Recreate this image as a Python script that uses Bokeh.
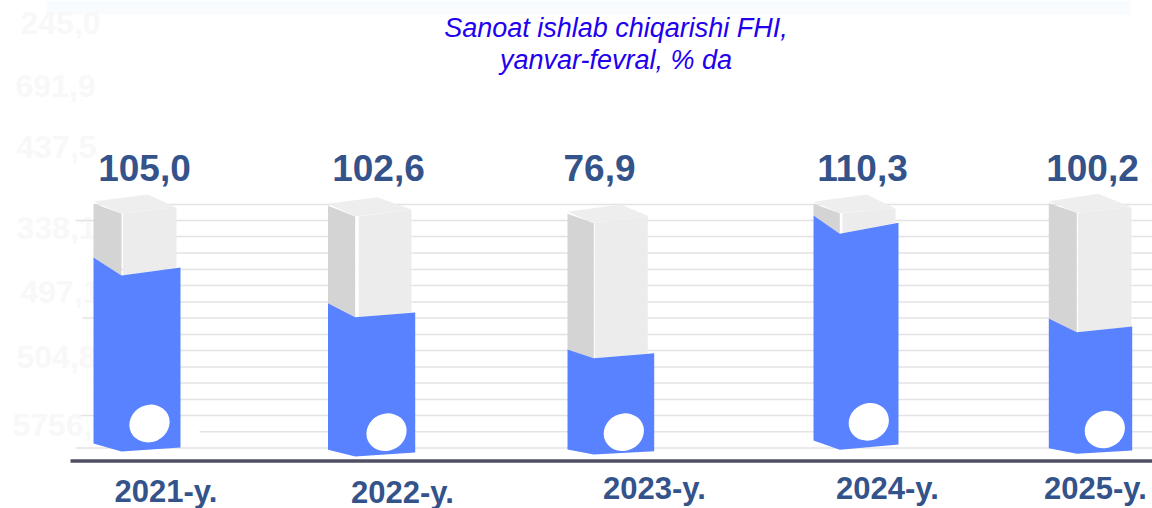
from bokeh.plotting import figure
from bokeh.models import Range1d
from bokeh.core.properties import value
from bokeh.embed import file_html
from bokeh.resources import INLINE

# ---- data ----
years = ["2021-y.", "2022-y.", "2023-y.", "2024-y.", "2025-y."]
labels = ["105,0", "102,6", "76,9", "110,3", "100,2"]
# height of the blue fill and of the whole tube above the baseline (picture units)
fill_level = [193.0, 148.0, 107.3, 237.7, 134.0]
tube_level = [253.0, 251.0, 244.7, 252.0, 253.3]
grid_levels = [256, 240, 224, 207.4, 191, 175, 158.4, 142.4, 126, 110, 93.4, 77.4, 61, 45, 28.7, 12.4]
ghost_labels = ["245,0", "691,9", "437,5", "338,1", "497,1", "504,8", "5756,"]
title_lines = ["Sanoat ishlab chiqarishi FHI,", "yanvar-fevral, % da"]

# ---- layout and styling ----
W, H = 1152, 508
BASE = 460  # picture row of the baseline
bar_left = [93.0, 327.5, 567.0, 813.0, 1048.3]
side_w = [28.0, 27.2, 26.3, 26.3, 28.0]
bar_w = [87.0, 87.2, 86.7, 85.0, 83.4]
fill_rise = [10.0, 9.3, 3.7, 7.3, 8.0]
fill_drop = [8.0, 4.7, 5.0, 11.0, 5.7]
foot_right = [13.0, 8.0, 9.3, 16.0, 10.0]
foot_mid = [9.0, 4.0, 6.0, 10.7, 6.7]
foot_left = [17.0, 10.7, 11.0, 20.0, 12.3]
tube_w = [83.0, 83.5, 80.3, 82.0, 82.7]
tube_rise = [4.0, 3.7, 2.0, 4.7, 4.0]
tube_drop = [6.0, 7.0, 7.4, 4.7, 5.6]
apex_rise = [13.0, 12.3, 11.3, 14.0, 13.4]
apex_x = [54.0, 49.0, 53.0, 53.0, 49.4]
gap = [1.5, 3.5, 1.0, 2.7, 1.3]
hole_x = [149.0, 386.0, 623.3, 868.3, 1104.3]
hole_y = [37.0, 28.3, 28.3, 38.7, 31.0]
grid_start = [95, 75, 93, 93, 93, 93, 93, 82, 93, 93, 93, 93, 93, 80, 199, 75]
label_x = [144, 378, 599, 862, 1092]
label_y = [293, 293, 293, 293, 293]
year_x = [165.5, 402, 654, 887, 1095]
year_y = [-31, -31.5, -28, -28, -28]
ghost_x = [20, 15, 16, 16, 20, 16, 12]
ghost_y = [438, 375, 314, 233, 169, 104, 36]
BLUE, GREY, LIGHT, TOP = "#5882ff", "#d4d4d4", "#ececec", "#eeeeee"
NAVY = "#34538a"

p = figure(width=W, height=H, x_range=Range1d(0, W), y_range=Range1d(BASE - H, BASE),
           output_backend="svg", toolbar_location=None, min_border=0,
           outline_line_color=None, background_fill_color="white", border_fill_color="white")
p.axis.visible = False
p.grid.visible = False

# faint leftovers behind the chart
p.quad(left=[46], right=[1130], bottom=[446], top=[460], fill_color="#f8fcff", line_color=None)
p.text(x=ghost_x, y=ghost_y, text=ghost_labels, text_color="#f8f8f8", text_font=value("Liberation Sans"),
       text_font_style="bold", text_font_size="32px", text_align="left", text_baseline="middle")

# grid lines and baseline
p.segment(x0=grid_start, x1=[1152] * len(grid_levels), y0=grid_levels, y1=grid_levels,
          line_color="#e3e3e3", line_width=1.5)
p.segment(x0=[70], x1=[1152], y0=[-0.5], y1=[-0.5], line_color="#4f4f64", line_width=3.5)

# tubes
for i in range(len(years)):
    x0, notch, xr = bar_left[i], bar_left[i] + side_w[i], bar_left[i] + tube_w[i]
    t, f = tube_level[i], fill_level[i]
    # white backing, so no grid line shows in the gap between the faces
    p.patch([notch, notch + gap[i], notch + gap[i], notch], [t - tube_drop[i], t - tube_drop[i], f, f],
            fill_color="white", line_color=None)
    p.patch([x0, notch, notch, x0], [t + tube_rise[i], t - tube_drop[i], f - fill_drop[i], f + fill_rise[i]],
            fill_color=GREY, line_color=None)
    p.patch([x0, x0 + apex_x[i], xr, notch],
            [t + tube_rise[i] + 2, t + apex_rise[i], t, t - tube_drop[i]], fill_color=TOP, line_color=None)
    p.patch([notch + gap[i], xr, xr, notch + gap[i]], [t - tube_drop[i], t, f, f - fill_drop[i]],
            fill_color=LIGHT, line_color=None)
    # blue fill
    xb = x0 + bar_w[i]
    p.patch([x0, notch, xb, xb, notch, x0],
            [f + fill_rise[i], f - fill_drop[i], f, foot_right[i], foot_mid[i], foot_left[i]],
            fill_color=BLUE, line_color=None)

# white holes
p.ellipse(x=hole_x, y=hole_y, width=41, height=37, angle=0.45, fill_color="white", line_color=None)

# texts
p.text(x=label_x, y=label_y, text=labels, text_color=NAVY, text_font=value("Liberation Sans"), text_font_style="bold",
       text_font_size="37px", text_align="center", text_baseline="middle")
p.text(x=year_x, y=year_y, text=years, text_color=NAVY, text_font=value("Liberation Sans"), text_font_style="bold",
       text_font_size="31px", text_align="center", text_baseline="middle")
p.text(x=[615.5, 615.5], y=[433, 401], text=title_lines, text_color="#2200ee", text_font=value("Liberation Sans"),
       text_font_style="italic", text_font_size="27px", text_align="center", text_baseline="middle")

open("out.html", "w").write(file_html(p, INLINE))
